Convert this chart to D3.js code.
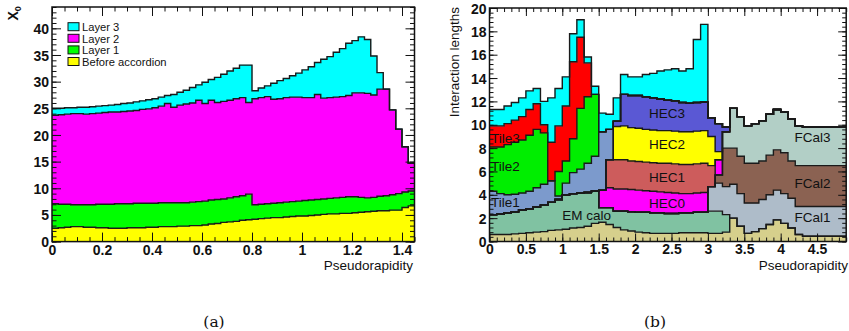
<!DOCTYPE html>
<html>
<head>
<meta charset="utf-8">
<script src="https://cdn.jsdelivr.net/npm/d3@7"></script>
<style>
  html, body { margin: 0; padding: 0; background: #fff; }
  svg { display: block; }
  text { font-family: "Liberation Sans", Arial, Helvetica, sans-serif; fill: #111; }
</style>
</head>
<body>
<svg id="chart" width="849" height="331"></svg>
<script>
// ---------- (a) radiation lengths X0 in the accordion, bins of 0.025 in eta
const accBinWidth = 0.025;
const accKeys = ["before", "layer1", "layer2", "layer3"];
const accLegend = ["Layer 3", "Layer 2", "Layer 1", "Before accordion"];
const accBefore = [2.5,2.6,2.7,2.8, 2.8,2.7,2.7,2.6, 2.6,2.5,2.5,2.5, 2.6,2.6,2.6,2.7, 2.7,2.8,2.8,2.8,
  2.9,2.9,3.0,3.0, 3.1,3.3,3.4,3.6, 3.7,3.8,4.0,4.1, 4.2,4.3,4.4,4.5, 4.5,4.6,4.7,4.8,
  4.8,4.9,5.0,5.1, 5.2,5.2,5.3,5.3, 5.4,5.5,5.6,5.7, 5.8,5.8,5.9,5.9, 6.4,6.7];
const accLayer1 = [4.6,4.4,4.3,4.1, 4.1,4.2,4.2,4.4, 4.4,4.5,4.6,4.6, 4.5,4.6,4.6,4.5, 4.5,4.5,4.5,4.5,
  4.4,4.4,4.4,4.5, 4.5,4.5,4.5,4.4, 4.5,4.6,4.6,4.8, 2.7,2.7,2.7,2.7, 2.8,2.8,2.8,2.8,
  2.9,2.9,2.9,2.9, 2.9,3.0,3.0,3.1, 3.0,2.8,2.6,2.6, 2.7,2.8,2.9,3.1, 2.9,2.8];
const accLayer2 = [16.6,16.8,16.9,17.1, 17.1,17.0,17.1,17.1, 17.2,17.3,17.2,17.3, 17.4,17.4,17.6,17.7, 17.9,18.1,18.6,17.9,
  18.3,18.5,18.6,19.0, 18.3,18.7,18.2,18.3, 18.3,18.4,18.4,17.2, 19.9,20.0,20.1,19.5, 19.5,19.6,19.6,19.5,
  19.3,19.2,19.7,18.9, 18.9,18.9,18.9,19.0, 19.5,19.6,19.6,19.2, 20.1,20.0,15.9,12.1, 8.5,5.2];
const accLayer3 = [1.3,1.2,1.2,1.1, 1.2,1.3,1.3,1.3, 1.3,1.3,1.4,1.5, 1.5,1.6,1.6,1.7, 1.7,1.7,1.5,2.4,
  2.4,2.6,2.9,2.9, 4.0,3.9,4.7,5.1, 5.5,5.7,6.1,7.0, 1.5,1.8,2.0,3.0, 3.4,3.6,4.0,4.5,
  5.2,5.8,6.0,7.3, 7.7,8.4,9.0,9.8, 9.8,10.5,10.1,7.3, 3.1,0,0,0, 0,0];
const accXTicks = [0, 0.2, 0.4, 0.6, 0.8, 1, 1.2, 1.4];
const accYTicks = [0, 5, 10, 15, 20, 25, 30, 35, 40];

// ---------- (b) interaction lengths, bins of 0.1 in eta
const lamBinWidth = 0.1;
const lamKeys = ["before", "em", "fcal1", "fcal2", "fcal3", "hec0", "hec1", "hec2", "hec3",
  "tile1", "tile2", "tile3", "muon"];
const lamBefore = [0.6,0.6,0.6,0.65,0.7,0.75,0.8,0.85,0.95,1.0, 1.05,1.15,1.2,1.3,1.55,1.65,1.45,1.2,1.0,0.9,
  0.8,0.75,0.7,0.7,0.7,0.7,0.75,0.75,0.75,0.75, 0.7,0.7,0.8,2.0,1.3,0.7,0.85,1.1,1.45,1.85,
  1.55,1.15,0.6,0.45,0.45,0.45,0.45,0.45,0.45];
const lamEM = [1.7,1.75,1.85,1.9,2.0,2.05,2.15,2.25,2.4,2.6, 2.95,2.95,2.95,2.9,2.75,1.25,1.45,1.4,1.6,1.65,
  1.7,1.75,1.75,1.75,1.7,1.7,1.7,1.7,1.75,1.75, 1.9,1.9,1.5,0,0,0,0,0,0,0, 0,0,0,0,0,0,0,0,0];
const lamFCal1 = [0,0,0,0,0,0,0,0,0,0, 0,0,0,0,0,0,0,0,0,0, 0,0,0,0,0,0,0,0,0,0,
  2.1,2.4,2.4,2.9,2.8,2.6,2.45,2.5,2.55,2.55, 2.55,2.55,2.4,2.55,2.55,2.55,2.55,2.55,2.55];
const lamFCal2 = [0,0,0,0,0,0,0,0,0,0, 0,0,0,0,0,0,0,0,0,0, 0,0,0,0,0,0,0,0,0,0,
  0,0.7,3.3,3.1,3.2,3.4,3.4,3.3,3.4,3.45, 3.5,3.2,3.5,3.5,3.5,3.5,3.5,3.5,3.5];
const lamFCal3 = [0,0,0,0,0,0,0,0,0,0, 0,0,0,0,0,0,0,0,0,0, 0,0,0,0,0,0,0,0,0,0,
  0,0,1.4,3.4,3.4,3.2,3.4,3.45,3.5,3.45, 3.5,3.6,3.4,3.3,3.3,3.3,3.3,3.3,3.3];
const lamHEC0 = [0,0,0,0,0,0,0,0,0,0, 0,0,0,0,0,1.5,1.7,1.9,1.9,1.9,
  1.9,1.85,1.85,1.8,1.8,1.75,1.65,1.65,1.65,1.7, 0,1.3,0,0,0,0,0,0,0,0, 0,0,0,0,0,0,0,0,0];
const lamHEC1 = [0,0,0,0,0,0,0,0,0,0, 0,0,0,0,0,0,2.4,2.5,2.5,2.45,
  2.45,2.45,2.45,2.45,2.5,2.5,2.5,2.5,2.5,2.5, 1.8,0,0,0,0,0,0,0,0,0, 0,0,0,0,0,0,0,0,0];
const lamHEC2 = [0,0,0,0,0,0,0,0,0,0, 0,0,0,0,0,0,0,2.85,2.9,2.85,
  2.85,2.8,2.8,2.8,2.8,2.8,2.8,2.8,2.8,2.8, 2.5,0.7,0,0,0,0,0,0,0,0, 0,0,0,0,0,0,0,0,0];
const lamHEC3 = [0,0,0,0,0,0,0,0,0,0, 0,0,0,0,0,0,0,0.45,2.7,2.75,
  2.8,2.8,2.75,2.7,2.6,2.6,2.5,2.45,2.45,2.45, 1.6,2.4,0.4,0,0,0,0,0,0,0, 0,0,0,0,0,0,0,0,0];
const lamTile1 = [2.0,1.75,1.55,1.5,1.45,1.5,1.65,1.8,1.85,0.3, 1.0,1.8,2.05,2.5,3.0,5.0,2.6,0,0,0,
  0,0,0,0,0,0,0,0,0,0, 0,0,0,0,0,0,0,0,0,0, 0,0,0,0,0,0,0,0,0];
const lamTile2 = [3.8,4.0,4.3,4.45,4.55,4.8,5.0,4.4,0,2.1, 1.9,2.9,5.2,5.7,5.3,0,0,0,0,0,
  0,0,0,0,0,0,0,0,0,0, 0,0,0,0,0,0,0,0,0,0, 0,0,0,0,0,0,0,0,0];
const lamTile3 = [1.8,1.8,1.8,1.9,2.0,2.2,2.2,0.7,3.3,3.9, 4.7,6.6,6.1,2.9,0,0,0,0,0,0,
  0,0,0,0,0,0,0,0,0,0, 0,0,0,0,0,0,0,0,0,0, 0,0,0,0,0,0,0,0,0];
const lamMuon = [1.4,1.4,1.5,1.5,1.6,1.6,1.3,2.0,3.8,3.2, 2.5,2.4,1.5,0.5,0.7,1.6,1.3,2.0,1.7,1.6,
  1.6,1.9,2.1,2.4,2.6,2.75,2.7,2.95,5.4,6.65, 0,0,0,0,0,0,0,0,0,0, 0,0,0,0,0,0,0,0,0];
const lamXTicks = [0, 0.5, 1, 1.5, 2, 2.5, 3, 3.5, 4, 4.5];
const lamYTicks = [0, 2, 4, 6, 8, 10, 12, 14, 16, 18, 20];
// region names and where they are written (eta, value at text baseline)
const lamLabels = ["Tile3", "Tile2", "Tile1", "EM calo", "HEC3", "HEC2", "HEC1", "HEC0", "FCal3", "FCal2", "FCal1"];
const lamLabelEta = [0.02, 0.02, 0.02, 1.0, 2.19, 2.19, 2.19, 2.19, 4.19, 4.19, 4.19];
const lamLabelVal = [8.45, 6.0, 2.98, 1.84, 10.56, 7.93, 5.07, 2.87, 8.55, 4.61, 1.70];

const svg = d3.select("#chart");

// draw one ROOT-like framed panel with a stacked step histogram
function drawPanel(cfg) {
  const x = d3.scaleLinear().domain(cfg.xDomain).range([cfg.left, cfg.right]);
  const y = d3.scaleLinear().domain(cfg.yDomain).range([cfg.bottom, cfg.top]);
  const g = svg.append("g");

  const clipId = "clip-" + cfg.id;
  g.append("clipPath").attr("id", clipId)
    .append("rect")
    .attr("x", cfg.left).attr("y", cfg.top)
    .attr("width", cfg.right - cfg.left).attr("height", cfg.bottom - cfg.top);

  const n = cfg.series[0].length;
  const table = d3.range(n).map(i => {
    const row = { i: i };
    cfg.keys.forEach((k, j) => row[k] = cfg.series[j][i]);
    return row;
  });
  const stacked = d3.stack().keys(cfg.keys)(table);

  // points at the left edge of every bin, plus the right edge of the last one
  const stepPts = s => {
    const pts = s.map((d, i) => ({ e: i * cfg.binWidth, lo: d[0], hi: d[1] }));
    const last = pts[pts.length - 1];
    pts.push({ e: n * cfg.binWidth, lo: last.lo, hi: last.hi });
    return pts;
  };
  const area = d3.area().curve(d3.curveStepAfter)
    .x(d => x(d.e)).y0(d => y(d.lo)).y1(d => y(d.hi));
  const line = d3.line().curve(d3.curveStepAfter)
    .x(d => x(d.e)).y(d => y(d.hi));

  const plot = g.append("g").attr("clip-path", `url(#${clipId})`);
  plot.selectAll("path.fill").data(stacked).join("path")
    .attr("class", "fill")
    .attr("d", s => area(stepPts(s)))
    .attr("fill", s => cfg.colors[s.key])
    .attr("stroke", s => cfg.colors[s.key])
    .attr("stroke-width", 0.5);
  plot.selectAll("path.edge").data(stacked).join("path")
    .attr("class", "edge")
    .attr("d", s => line(stepPts(s)))
    .attr("fill", "none")
    .attr("stroke", "#1a1a1a")
    .attr("stroke-width", 1.4);

  // ticks on all four sides, pointing into the frame
  const tickStyle = sel => {
    sel.select(".domain").remove();
    sel.selectAll(".tick line").attr("stroke", "#111").attr("stroke-width", 1);
  };
  const addAxis = (gen, tx, ty) => g.append("g")
    .attr("transform", `translate(${tx},${ty})`).call(gen).call(tickStyle);

  const xMinor = d3.range(0, cfg.xDomain[1] + 1e-9, cfg.xMinorStep);
  const yMinor = d3.range(0, cfg.yDomain[1] + 1e-9, cfg.yMinorStep);

  addAxis(d3.axisBottom(x).tickValues(xMinor).tickSize(-cfg.minorLen).tickFormat(""), 0, cfg.bottom);
  addAxis(d3.axisTop(x).tickValues(xMinor).tickSize(-cfg.minorLen).tickFormat(""), 0, cfg.top);
  addAxis(d3.axisLeft(y).tickValues(yMinor).tickSize(-cfg.minorLen).tickFormat(""), cfg.left, 0);
  addAxis(d3.axisRight(y).tickValues(yMinor).tickSize(-cfg.minorLen).tickFormat(""), cfg.right, 0);
  addAxis(d3.axisTop(x).tickValues(cfg.xTicks).tickSize(-cfg.majorLen).tickFormat(""), 0, cfg.top);
  addAxis(d3.axisRight(y).tickValues(cfg.yTicks).tickSize(-cfg.majorLen).tickFormat(""), cfg.right, 0);

  const xAx = addAxis(d3.axisBottom(x).tickValues(cfg.xTicks).tickSize(-cfg.majorLen)
    .tickPadding(3).tickFormat(d3.format("~g")), 0, cfg.bottom);
  const yAx = addAxis(d3.axisLeft(y).tickValues(cfg.yTicks).tickSize(-cfg.majorLen)
    .tickPadding(3).tickFormat(d3.format("~g")), cfg.left, 0);
  [xAx, yAx].forEach(a => a.selectAll(".tick text")
    .attr("fill", "#111")
    .style("font-family", '"Liberation Sans", Arial, sans-serif')
    .style("font-weight", "bold")
    .style("font-size", "14px"));
  yAx.selectAll(".tick text").attr("dy", "0.36em");

  g.append("rect")
    .attr("x", cfg.left).attr("y", cfg.top)
    .attr("width", cfg.right - cfg.left).attr("height", cfg.bottom - cfg.top)
    .attr("fill", "none").attr("stroke", "#111").attr("stroke-width", 1.5);

  g.append("text")
    .attr("x", cfg.xTitleX).attr("y", 269.5)
    .attr("text-anchor", "end")
    .style("font-size", "13.5px")
    .text("Pseudorapidity");

  return { g, x, y };
}

// ---------- panel (a)
const a = drawPanel({
  id: "a", left: 52, right: 414.5, top: 7, bottom: 241.6,
  xDomain: [0, 1.45], yDomain: [0, 44],
  binWidth: accBinWidth, keys: accKeys,
  series: [accBefore, accLayer1, accLayer2, accLayer3],
  colors: { before: "#ffff00", layer1: "#00ff00", layer2: "#ff00ff", layer3: "#00ffff" },
  xTicks: accXTicks, yTicks: accYTicks, xMinorStep: 0.05, yMinorStep: 1,
  majorLen: 9, minorLen: 4.5, xTitleX: 413
});

const xTitle = a.g.append("text")
  .attr("transform", "translate(18,20.5) rotate(-90)")
  .style("font-size", "14px").style("font-weight", "bold");
xTitle.append("tspan").text("X");
xTitle.append("tspan").attr("dy", 3).style("font-size", "9px").text("0");

const legendColors = ["#00ffff", "#ff00ff", "#00ff00", "#ffff00"];
const leg = a.g.append("g").selectAll("g").data(accLegend).join("g")
  .attr("transform", (d, i) => `translate(68,${22.7 + i * 11.6})`);
leg.append("rect").attr("width", 11).attr("height", 8)
  .attr("fill", (d, i) => legendColors[i]).attr("stroke", "#111").attr("stroke-width", 1);
leg.append("text").attr("x", 14).attr("y", 8.3)
  .style("font-size", "11.2px").attr("fill", "#222").text(d => d);

// ---------- panel (b)
const b = drawPanel({
  id: "b", left: 489.5, right: 846.2, top: 8, bottom: 241.5,
  xDomain: [0, 4.9], yDomain: [0, 20],
  binWidth: lamBinWidth, keys: lamKeys,
  series: [lamBefore, lamEM, lamFCal1, lamFCal2, lamFCal3, lamHEC0, lamHEC1, lamHEC2, lamHEC3,
    lamTile1, lamTile2, lamTile3, lamMuon],
  colors: {
    before: "#d6cf8c", em: "#80c2a2", fcal1: "#aebcc9", fcal2: "#8b6252", fcal3: "#b2cfc6",
    hec0: "#ff00ff", hec1: "#cd5c5c", hec2: "#ffff00", hec3: "#5a58d4",
    tile1: "#7c9acc", tile2: "#00ee00", tile3: "#ff0000", muon: "#00ffff"
  },
  xTicks: lamXTicks, yTicks: lamYTicks, xMinorStep: 0.1, yMinorStep: 0.4,
  majorLen: 8, minorLen: 4, xTitleX: 848
});

b.g.append("text")
  .attr("transform", "translate(459,7) rotate(-90)")
  .attr("text-anchor", "end")
  .style("font-size", "13.5px")
  .text("Interaction lengths");

b.g.append("g").selectAll("text").data(lamLabels).join("text")
  .attr("x", (d, i) => b.x(lamLabelEta[i]))
  .attr("y", (d, i) => b.y(lamLabelVal[i]))
  .style("font-size", "13.5px").attr("fill", "#1a1a1a")
  .text(d => d);

// sub-figure captions
svg.append("g").selectAll("text").data(["(a)", "(b)"]).join("text")
  .attr("x", (d, i) => [214, 655][i]).attr("y", 327)
  .attr("text-anchor", "middle")
  .style("font-family", '"DejaVu Serif", "Liberation Serif", serif')
  .style("font-size", "15.5px")
  .text(d => d);
</script>
</body>
</html>
